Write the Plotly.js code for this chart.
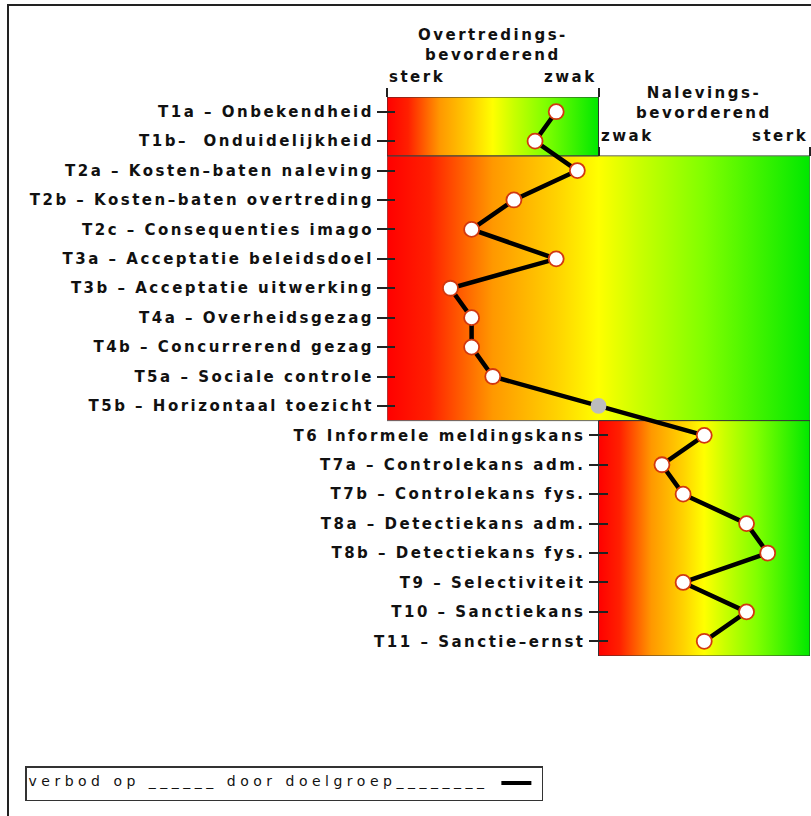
<!DOCTYPE html>
<html>
<head>
<meta charset="utf-8">
<script src="https://cdn.plot.ly/plotly-3.0.1.min.js"></script>
<style>
  html, body { margin: 0; padding: 0; background: #fff; }
  #chart { width: 811px; height: 816px; }
  .ytick text, .y2tick text, .annotation-text { letter-spacing: 2.5px; }
  .legendtitletext { letter-spacing: 4.5px; }
</style>
</head>
<body>
<div id="chart"></div>
<script>
// ---- data ----
const labelsOvertreding = ['T1a – Onbekendheid', 'T1b–\u00a0 Onduidelijkheid'];
const valuesOvertreding = [-2, -3];
const labelsBeide = [
  'T2a – Kosten–baten naleving',
  'T2b – Kosten–baten overtreding',
  'T2c – Consequenties imago',
  'T3a – Acceptatie beleidsdoel',
  'T3b – Acceptatie uitwerking',
  'T4a – Overheidsgezag',
  'T4b – Concurrerend gezag',
  'T5a – Sociale controle',
  'T5b – Horizontaal toezicht'
];
const valuesBeide = [-1, -4, -6, -2, -7, -6, -6, -5, 0];
const labelsNaleving = [
  'T6 Informele meldingskans',
  'T7a – Controlekans adm.',
  'T7b – Controlekans fys.',
  'T8a – Detectiekans adm.',
  'T8b – Detectiekans fys.',
  'T9 – Selectiviteit',
  'T10 – Sanctiekans',
  'T11 – Sanctie–ernst'
];
const valuesNaleving = [5, 3, 4, 7, 8, 4, 7, 5];
const scaleMin = -10, scaleMid = 0, scaleMax = 10;
const scaleLabelsOvertreding = ['sterk', 'zwak'];
const scaleLabelsNaleving = ['zwak', 'sterk'];
const titleOvertreding = 'Overtredings-<br>bevorderend';
const titleNaleving = 'Nalevings-<br>bevorderend';
const legendText = 'verbod op ______ door doelgroep________';

// ---- derived ----
const n1 = labelsOvertreding.length, n2 = labelsBeide.length, n3 = labelsNaleving.length;
const allLabels = labelsOvertreding.concat(labelsBeide, labelsNaleving);
const allValues = valuesOvertreding.concat(valuesBeide, valuesNaleving);
const rows = allValues.map((_, i) => i);
const nRows = allLabels.length;
const yRange = [nRows - 0.5, -0.5];

// layout helpers (pixel -> paper)
const M = {l: 387, r: 1, t: 97, b: 160};
const W = 811, H = 816;
const pw = W - M.l - M.r, ph = H - M.t - M.b;
const px = p => (p - M.l) / pw;
const py = p => 1 - (p - M.t) / ph;

const gradScale = [
  [0, '#ff0000'], [0.1, '#ff2000'], [0.25, '#ff9800'], [0.4, '#ffd200'],
  [0.5, '#ffff00'], [0.6, '#c8ff00'], [0.75, '#80ff00'], [1, '#00e800']
];

function boxTrace(x0, x1, y0, y1, lc) {
  return {
    type: 'scatter', mode: 'lines',
    x: [x0, x1, x1, x0, x0], y: [y0, y0, y1, y1, y0],
    xaxis: 'x', yaxis: 'y',
    fill: 'toself',
    fillgradient: {type: 'horizontal', colorscale: gradScale},
    line: {color: lc, width: 1},
    hoverinfo: 'skip', showlegend: false
  };
}

const traces = [
  boxTrace(scaleMin, scaleMax, n1 - 0.5, n1 + n2 - 0.5, '#666'),
  boxTrace(scaleMin, scaleMid, -0.5, n1 - 0.5, '#333'),
  boxTrace(scaleMid, scaleMax, n1 + n2 - 0.5, nRows - 0.5, '#333'),
  {
    type: 'scatter', mode: 'lines', x: [null], y: [null], xaxis: 'x2', yaxis: 'y',
    name: '', line: {color: '#000', width: 4}, showlegend: true, hoverinfo: 'skip'
  },
  {
    type: 'scatter', mode: 'lines+markers',
    x: allValues, y: rows, xaxis: 'x', yaxis: 'y2',
    text: allLabels, hovertemplate: '%{text}: %{x}<extra></extra>',
    line: {color: '#000', width: 4.5},
    marker: {
      symbol: 'circle', opacity: 1,
      size: allValues.map(v => v === 0 ? 14 : 15),
      color: allValues.map(v => v === 0 ? '#bdbdbd' : '#ffffff'),
      line: {width: 1.8, color: allValues.map(v => v === 0 ? '#bdbdbd' : '#d2380f')}
    },
    showlegend: false
  }
];

const font = {family: 'DejaVu Sans', size: 15, color: '#111', weight: 'bold'};
const tickBase = {
  range: yRange, showgrid: false, zeroline: false, showline: false,
  tickcolor: '#222', tickwidth: 1.5, tickfont: font, fixedrange: true
};

const firstIdx = rows.slice(0, n1 + n2);
const lastIdx = rows.slice(n1 + n2);

const layout = {
  width: W, height: H,
  margin: M,
  paper_bgcolor: '#fff', plot_bgcolor: 'rgba(0,0,0,0)',
  font: {family: 'DejaVu Sans', size: 14, color: '#111'},
  xaxis: {
    range: [scaleMin, scaleMax], side: 'top', anchor: 'free', position: 1,
    tickvals: [scaleMin, scaleMid], ticks: 'outside', ticklen: 9, tickwidth: 1.5, tickcolor: '#222',
    showticklabels: false, showgrid: false, zeroline: false, showline: false, fixedrange: true
  },
  xaxis2: {
    range: [scaleMin, scaleMax], overlaying: 'x', side: 'top', anchor: 'free', position: py(156),
    tickvals: [scaleMid, scaleMax], ticks: 'outside', ticklen: 9, tickwidth: 1.5, tickcolor: '#222',
    showticklabels: false, showgrid: false, zeroline: false, showline: false, fixedrange: true
  },
  yaxis: Object.assign({}, tickBase, {
    anchor: 'free', position: 0, shift: 8, side: 'left',
    tickvals: firstIdx, ticktext: firstIdx.map(i => allLabels[i]),
    ticks: 'outside', ticklen: 18
  }),
  yaxis2: Object.assign({}, tickBase, {
    overlaying: 'y', anchor: 'free', position: 0.5, shift: 9, side: 'left',
    tickvals: lastIdx, ticktext: lastIdx.map(i => allLabels[i]),
    ticks: 'outside', ticklen: 19
  }),
  annotations: [
    {text: titleOvertreding, xref: 'x', x: (scaleMin + scaleMid) / 2, yref: 'paper', y: py(45),
     xanchor: 'center', yanchor: 'middle', showarrow: false, font: font},
    {text: scaleLabelsOvertreding[0], xref: 'x', x: scaleMin, yref: 'paper', y: py(77),
     xanchor: 'left', yanchor: 'middle', showarrow: false, font: font},
    {text: scaleLabelsOvertreding[1], xref: 'x', x: scaleMid, yref: 'paper', y: py(77),
     xanchor: 'right', yanchor: 'middle', showarrow: false, font: font},
    {text: titleNaleving, xref: 'x', x: (scaleMid + scaleMax) / 2, yref: 'paper', y: py(103),
     xanchor: 'center', yanchor: 'middle', showarrow: false, font: font},
    {text: scaleLabelsNaleving[0], xref: 'x', x: scaleMid, yref: 'paper', y: py(136),
     xanchor: 'left', yanchor: 'middle', showarrow: false, font: font},
    {text: scaleLabelsNaleving[1], xref: 'x', x: scaleMax, yref: 'paper', y: py(136),
     xanchor: 'right', yanchor: 'middle', showarrow: false, font: font}
  ],
  shapes: [
    {type: 'rect', xref: 'paper', yref: 'paper', x0: px(8), x1: px(840), y0: py(860), y1: py(5),
     line: {color: '#222', width: 2}, fillcolor: 'rgba(0,0,0,0)', layer: 'below'}
  ],
  showlegend: true,
  legend: {
    x: px(25), y: py(766), xanchor: 'left', yanchor: 'top',
    bgcolor: '#fff', bordercolor: '#333', borderwidth: 1.5,
    font: {family: 'DejaVu Sans', size: 14, color: '#111'},
    title: {text: legendText, side: 'left', font: {family: 'DejaVu Sans', size: 14, color: '#111'}},
    itemwidth: 30
  },
  hovermode: 'closest'
};

Plotly.newPlot('chart', traces, layout, {displayModeBar: false});
</script>
</body>
</html>
